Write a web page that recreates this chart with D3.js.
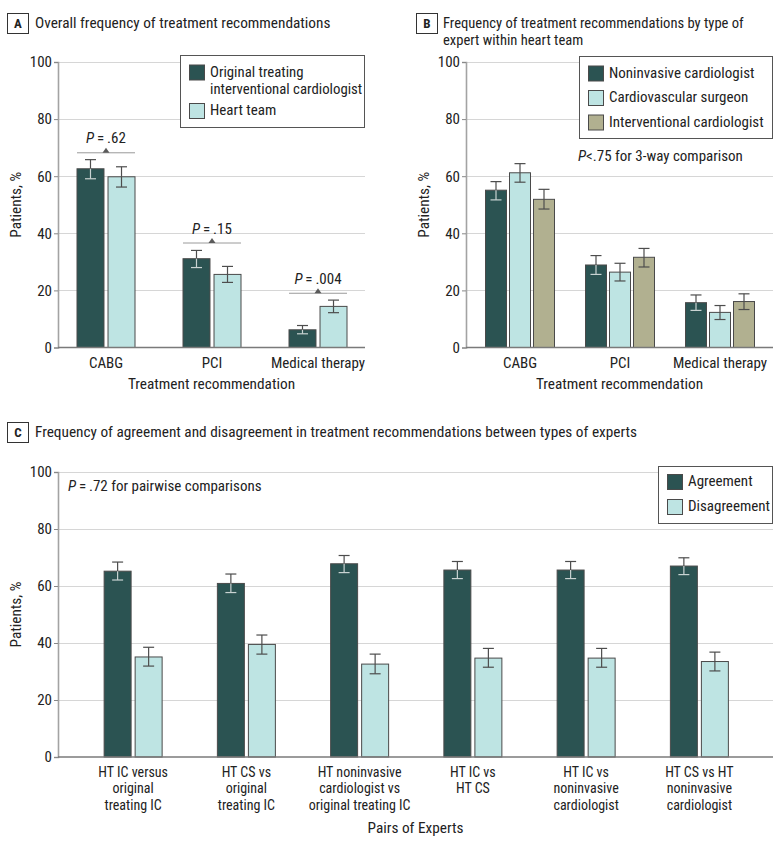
<!DOCTYPE html>
<html><head><meta charset="utf-8">
<script src="https://cdn.jsdelivr.net/npm/d3@7"></script>
<style>
body{margin:0;background:#fff}
text{font-family:'Roboto Condensed','Liberation Sans',sans-serif;fill:#222}
</style></head>
<body><svg id="chart" width="780" height="845"></svg>
<script>
// ---------- DATA ----------
const yTicks = [0, 20, 40, 60, 80, 100];

// Panel A
const catsA = ["CABG", "PCI", "Medical therapy"];
const seriesA = ["Original treating interventional cardiologist", "Heart team"];
const origIC = [62.6, 31.1, 6.2];
const origICLo = [59.1, 28.0, 4.8];
const origICHi = [65.8, 34.0, 7.7];
const heartTeam = [59.8, 25.6, 14.4];
const heartTeamLo = [56.2, 22.8, 12.2];
const heartTeamHi = [63.3, 28.4, 16.6];
const pLabelsA = [".62", ".15", ".004"];
const pLevelsA = [68.2, 36.6, 19.0];

// Panel B
const catsB = ["CABG", "PCI", "Medical therapy"];
const seriesB = ["Noninvasive cardiologist", "Cardiovascular surgeon", "Interventional cardiologist"];
const nonInv = [55.1, 28.9, 15.7];
const nonInvLo = [51.7, 25.6, 13.0];
const nonInvHi = [58.1, 32.2, 18.4];
const cvSurg = [61.2, 26.4, 12.3];
const cvSurgLo = [57.9, 23.3, 9.8];
const cvSurgHi = [64.4, 29.5, 14.7];
const intCard = [51.9, 31.6, 16.1];
const intCardLo = [48.5, 28.2, 13.3];
const intCardHi = [55.4, 34.7, 18.8];

// Panel C
const catsC = [
  ["HT IC versus", "original", "treating IC"],
  ["HT CS vs", "original", "treating IC"],
  ["HT noninvasive", "cardiologist vs", "original treating IC"],
  ["HT IC vs", "HT CS"],
  ["HT IC vs", "noninvasive", "cardiologist"],
  ["HT CS vs HT", "noninvasive", "cardiologist"]
];
const seriesC = ["Agreement", "Disagreement"];
const agree = [65.2, 60.9, 67.8, 65.6, 65.6, 67.0];
const agreeLo = [62.1, 57.7, 64.7, 62.6, 62.6, 64.0];
const agreeHi = [68.4, 64.2, 70.7, 68.6, 68.6, 69.9];
const disagree = [35.1, 39.5, 32.6, 34.7, 34.7, 33.5];
const disagreeLo = [31.9, 36.1, 29.2, 31.5, 31.5, 30.2];
const disagreeHi = [38.5, 42.8, 36.1, 38.1, 38.1, 36.8];

// ---------- STYLE ----------
const DARK = "#2b5352", LIGHT = "#bee4e3", OLIVE = "#b1b090";
const svg = d3.select("#chart");

function multiText(parent, x, y, lines, lh, anchor, size) {
  const t = parent.append("text").attr("x", x).attr("y", y).attr("text-anchor", anchor).style("font-size", size);
  lines.forEach((l, i) => t.append("tspan").attr("x", x).attr("dy", i === 0 ? 0 : lh).text(l));
  return t;
}

function panelTitle(letter, lines, bx, by, tx) {
  svg.append("rect").attr("x", bx + 0.5).attr("y", by + 0.5).attr("width", 21).attr("height", 20)
    .attr("fill", "#fff").attr("stroke", "#333").attr("stroke-width", 1);
  svg.append("text").attr("x", bx + 11).attr("y", by + 15).attr("text-anchor", "middle")
    .style("font-size", "13px").style("font-weight", "bold").text(letter);
  if (lines.length > 1) multiText(svg, tx, by + 14.5, lines, 17, "start", "14.6px");
  else multiText(svg, tx, by + 15, lines, 17, "start", "15.3px");
}

function drawPanel(cfg) {
  const g = svg.append("g");
  const y = d3.scaleLinear().domain([0, 100]).range([cfg.y0, cfg.y1]);
  const x = d3.scaleBand().domain(d3.range(cfg.n)).range(cfg.xRange);
  const sub = d3.scaleBand().domain(d3.range(cfg.series.length)).range(cfg.subRange).paddingInner(cfg.subPad);

  // gridlines
  g.append("g").selectAll("line").data(yTicks.filter(t => t > 0)).join("line")
    .attr("x1", cfg.axisX).attr("x2", cfg.right)
    .attr("y1", d => Math.round(y(d)) + 0.5).attr("y2", d => Math.round(y(d)) + 0.5)
    .attr("stroke", "#d6d6d6").attr("stroke-width", 1);

  // y axis
  const ya = g.append("g").attr("transform", `translate(${cfg.axisX},0)`)
    .call(d3.axisLeft(y).tickValues(yTicks).tickSize(4).tickPadding(2));
  ya.select(".domain").attr("stroke", "#a3a3a3").attr("stroke-width", 1.6);
  ya.selectAll(".tick line").attr("stroke", "#888");
  ya.selectAll(".tick text").style("font-size", "15px").style("fill", "#222")
    .style("font-family", "'Roboto Condensed',sans-serif");

  // bars
  cfg.series.forEach((s, si) => {
    const bw = sub.bandwidth();
    g.append("g").selectAll("rect").data(s.vals).join("rect")
      .attr("x", (d, i) => x(i) + x.bandwidth() / 2 + sub(si))
      .attr("y", d => y(d))
      .attr("width", bw)
      .attr("height", d => y(0) - y(d))
      .attr("fill", s.color).attr("stroke", "#4a4a4a").attr("stroke-width", 1);
    // error bars
    s.vals.forEach((v, i) => {
      const cx = x(i) + x.bandwidth() / 2 + sub(si) + bw / 2;
      const above = "#4d4d4d", inside = s.color === DARK ? "#c9d3d2" : "#4d4d4d";
      g.append("line").attr("x1", cx).attr("x2", cx).attr("y1", y(s.hi[i])).attr("y2", y(v))
        .attr("stroke", above).attr("stroke-width", 1.2);
      g.append("line").attr("x1", cx).attr("x2", cx).attr("y1", y(v)).attr("y2", y(s.lo[i]))
        .attr("stroke", inside).attr("stroke-width", 1.2);
      g.append("line").attr("x1", cx - 5.5).attr("x2", cx + 5.5).attr("y1", y(s.hi[i])).attr("y2", y(s.hi[i]))
        .attr("stroke", above).attr("stroke-width", 1.2);
      g.append("line").attr("x1", cx - 5.5).attr("x2", cx + 5.5).attr("y1", y(s.lo[i])).attr("y2", y(s.lo[i]))
        .attr("stroke", inside).attr("stroke-width", 1.2);
    });
  });

  // x axis baseline
  g.append("line").attr("x1", cfg.axisX).attr("x2", cfg.right).attr("y1", y(0)).attr("y2", y(0))
    .attr("stroke", "#7a7a7a").attr("stroke-width", 1.3);

  // x tick labels
  cfg.labels.forEach((lab, i) => {
    const lines = Array.isArray(lab) ? lab : [lab];
    if (lines.length > 1) multiText(g, x(i) + x.bandwidth() / 2, y(0) + 19.5, lines, 16.5, "middle", "14px");
    else multiText(g, x(i) + x.bandwidth() / 2, y(0) + 20, lines, 16.5, "middle", "15px");
  });

  // axis titles
  g.append("text").attr("x", (cfg.axisX + cfg.right) / 2).attr("y", cfg.xTitleY).attr("text-anchor", "middle")
    .style("font-size", "15.3px").text(cfg.xTitle);
  g.append("text").attr("transform", `translate(${cfg.axisX - 37},${(cfg.y0 + cfg.y1) / 2}) rotate(-90)`)
    .attr("text-anchor", "middle").style("font-size", "15.3px").text("Patients, %");

  // legend
  const L = cfg.legend;
  g.append("rect").attr("x", L.x + 0.5).attr("y", L.y + 0.5).attr("width", L.w).attr("height", L.h)
    .attr("fill", "#fff").attr("stroke", "#555").attr("stroke-width", 1);
  L.items.forEach((it) => {
    g.append("rect").attr("x", L.x + 9.5).attr("y", it.sy + 0.5).attr("width", 15).attr("height", 15)
      .attr("fill", it.color).attr("stroke", "#4a4a4a").attr("stroke-width", 1);
    multiText(g, L.x + 30, it.sy + 12, it.lines, 17.5, "start", it.lines.length > 1 ? "14.8px" : "15px");
  });
  return {g, x, y, sub};
}

function pText(g, x, yb, anchor, rest) {
  const t = g.append("text").attr("x", x).attr("y", yb).attr("text-anchor", anchor).style("font-size", "15px");
  t.append("tspan").style("font-style", "italic").text("P");
  t.append("tspan").text(rest);
}

// ---------- PANEL A ----------
panelTitle("A", ["Overall frequency of treatment recommendations"], 7, 13, 35);
const A = drawPanel({
  n: catsA.length, labels: catsA, y0: 347.5, y1: 62, axisX: 58, right: 365,
  xRange: [53, 371], subRange: [-29, 29], subPad: 0.13,
  series: [
    {vals: origIC, lo: origICLo, hi: origICHi, color: DARK},
    {vals: heartTeam, lo: heartTeamLo, hi: heartTeamHi, color: LIGHT}
  ],
  xTitle: "Treatment recommendation", xTitleY: 388.5,
  legend: {x: 180, y: 55, w: 184, h: 72, items: [
    {sy: 64.5, color: DARK, lines: ["Original treating", "interventional cardiologist"]},
    {sy: 103, color: LIGHT, lines: [seriesA[1]]}
  ]}
});
pLevelsA.forEach((lv, i) => {
  const cx = A.x(i) + A.x.bandwidth() / 2;
  const yy = A.y(lv);
  A.g.append("line").attr("x1", cx - 29).attr("x2", cx + 29).attr("y1", yy).attr("y2", yy)
    .attr("stroke", "#9a9a9a").attr("stroke-width", 1);
  A.g.append("path").attr("d", `M${cx - 3.5},${yy}L${cx + 3.5},${yy}L${cx},${yy - 5}Z`).attr("fill", "#5a5a5a");
  pText(A.g, cx, yy - 9.5, "middle", "\u2009=\u2009" + pLabelsA[i]);
});

// ---------- PANEL B ----------
panelTitle("B", ["Frequency of treatment recommendations by type of", "expert within heart team"], 416, 13, 443);
const B = drawPanel({
  n: catsB.length, labels: catsB, y0: 347.5, y1: 62, axisX: 466, right: 773,
  xRange: [470, 770], subRange: [-34.5, 34.5], subPad: 0.125,
  series: [
    {vals: nonInv, lo: nonInvLo, hi: nonInvHi, color: DARK},
    {vals: cvSurg, lo: cvSurgLo, hi: cvSurgHi, color: LIGHT},
    {vals: intCard, lo: intCardLo, hi: intCardHi, color: OLIVE}
  ],
  xTitle: "Treatment recommendation", xTitleY: 388.5,
  legend: {x: 579, y: 56, w: 193, h: 82, items: [
    {sy: 65.5, color: DARK, lines: [seriesB[0]]},
    {sy: 90, color: LIGHT, lines: [seriesB[1]]},
    {sy: 114.5, color: OLIVE, lines: [seriesB[2]]}
  ]}
});
pText(B.g, 578, 161, "start", "<.75 for 3-way comparison");

// ---------- PANEL C ----------
panelTitle("C", ["Frequency of agreement and disagreement in treatment recommendations between types of experts"], 7, 422, 35);
const C = drawPanel({
  n: catsC.length, labels: catsC, y0: 757, y1: 472, axisX: 58, right: 773,
  xRange: [76.5, 756], subRange: [-29, 29], subPad: 0.13,
  series: [
    {vals: agree, lo: agreeLo, hi: agreeHi, color: DARK},
    {vals: disagree, lo: disagreeLo, hi: disagreeHi, color: LIGHT}
  ],
  xTitle: "Pairs of Experts", xTitleY: 832.5,
  legend: {x: 658, y: 466, w: 114, h: 57, items: [
    {sy: 474, color: DARK, lines: [seriesC[0]]},
    {sy: 499, color: LIGHT, lines: [seriesC[1]]}
  ]}
});
pText(C.g, 68, 491, "start", "\u2009=\u2009.72 for pairwise comparisons");
</script></body></html>
